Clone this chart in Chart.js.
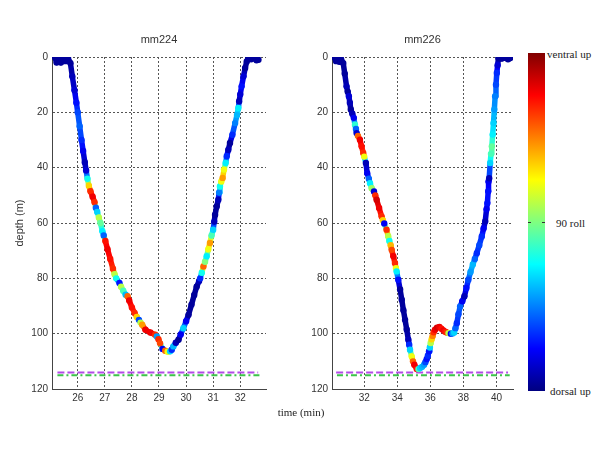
<!DOCTYPE html>
<html>
<head>
<meta charset="utf-8">
<title>mm224 / mm226 - depth and roll</title>
<script src="https://cdn.jsdelivr.net/npm/chart.js@4.4.1/dist/chart.umd.min.js"></script>
<style>
  html, body { margin: 0; padding: 0; background: #fff; }
  #wrap { position: relative; width: 600px; height: 450px; overflow: hidden; background: #fff; }
  canvas { position: absolute; top: 0; }
  #c224 { left: 0; }
  #c226 { left: 280px; }
  .lbl { position: absolute; font-family: "Liberation Serif", serif; font-size: 11px; color: #222; white-space: nowrap; line-height: 12px; }
  #colorbar { position: absolute; left: 528px; top: 53px; width: 17px; height: 338px; }
  .cbtick { position: absolute; top: 169px; width: 3px; height: 1px; background: #333; }
</style>
</head>
<body>
<div id="wrap">
  <canvas id="c224" width="280" height="450"></canvas>
  <canvas id="c226" width="240" height="450"></canvas>
  <div id="colorbar">
    <div class="cbtick" style="left:0"></div>
    <div class="cbtick" style="right:0"></div>
  </div>
  <div class="lbl" style="left:547px; top:48px;">ventral up</div>
  <div class="lbl" style="left:556px; top:217px;">90 roll</div>
  <div class="lbl" style="left:550px; top:385px;">dorsal up</div>
  <div class="lbl" style="left:301px; top:406px; transform:translateX(-50%);">time (min)</div>
</div>

<script>
// ---- datos ----
// mm224: tiempo (min), profundidad (m), roll (0 = dorsal up, 90, 180 = ventral up)
const time224 = [25.17, 25.22, 25.3, 25.38, 25.46, 25.55, 25.64, 25.73, 25.8, 25.88, 25.95, 26.0, 26.07, 26.14, 26.2, 26.26, 26.31, 26.36, 26.41, 26.47,
  26.55, 26.62, 26.67, 26.72, 26.78, 26.84, 26.91, 26.96, 27.02, 27.1, 27.2, 27.3, 27.36, 27.42, 27.54, 27.6, 27.68, 27.77, 27.84, 27.9,
  28.0, 28.1, 28.18, 28.26, 28.32, 28.38, 28.5, 28.68, 28.86, 28.92, 28.98, 29.04, 29.13, 29.23, 29.32, 29.41, 29.47, 29.53, 29.62, 29.72,
  29.8, 29.9, 30.0, 30.09, 30.2, 30.3, 30.39, 30.48, 30.52, 30.58, 30.64, 30.7, 30.76, 30.82, 30.88, 30.94, 31.0, 31.04, 31.07, 31.13,
  31.19, 31.22, 31.25, 31.3, 31.35, 31.4, 31.46, 31.5, 31.56, 31.62, 31.71, 31.81, 31.88, 31.93, 31.96, 32.0, 32.05, 32.12, 32.18, 32.24,
  32.3, 32.4, 32.5, 32.6, 32.67];
const depth224 = [0.3, 2.0, 1.0, 2.0, 0.5, 1.5, 0.3, 2.2, 7, 12, 16.5, 20, 25, 30, 34, 38, 41, 44, 46.5, 48.5,
  50.5, 52.5, 54.5, 56, 58, 60, 63, 64.5, 66.5, 69.5, 73, 76.5, 78.5, 80, 81.7, 83, 84.5, 85.9, 86.5, 88,
  90.5, 92.5, 94, 95, 96, 96.8, 98.6, 99.6, 100.4, 101, 102, 103.5, 105.5, 106.2, 106.5, 106.4, 105.8, 104.6, 103.3, 102.2,
  100.3, 98, 95.5, 93.2, 89.5, 86, 83, 81, 80, 78, 75.7, 74, 72, 69.5, 67.2, 64.5, 62.4, 59.5, 57, 54,
  51.6, 49, 46.8, 45, 43.7, 40.7, 38.3, 35.9, 33.5, 31.1, 28.1, 23.9, 21, 18.4, 16, 13.5, 10.6, 7, 4, 1.6,
  0.2, 0.8, 0.3, 1.2, 1.0];
const roll224 = [5, 5, 5, 5, 5, 5, 5, 5, 10, 15, 25, 35, 40, 30, 20, 10, 15, 70, 120, 150,
  160, 150, 40, 60, 100, 85, 65, 40, 155, 160, 155, 150, 100, 70, 25, 100, 80, 55, 140, 160,
  155, 150, 120, 35, 100, 130, 160, 160, 150, 50, 150, 145, 20, 140, 110, 60, 30, 55, 10, 5,
  20, 60, 20, 5, 5, 5, 5, 10, 30, 70, 140, 90, 65, 110, 130, 80, 60, 10, 5, 5,
  10, 45, 70, 110, 130, 110, 65, 30, 10, 5, 30, 45, 55, 65, 10, 15, 25, 15, 5, 5,
  5, 5, 5, 5, 5];

// mm226
const time226 = [30.22, 30.3, 30.4, 30.5, 30.6, 30.73, 30.82, 30.93, 31.0, 31.07, 31.13, 31.19, 31.28, 31.37, 31.44, 31.5, 31.54, 31.62, 31.74, 31.84,
  31.94, 32.0, 32.1, 32.18, 32.28, 32.35, 32.45, 32.59, 32.67, 32.75, 32.9, 33.05, 33.13, 33.21, 33.35, 33.45, 33.52, 33.6, 33.66, 33.76,
  33.86, 33.92, 33.96, 34.06, 34.17, 34.27, 34.37, 34.47, 34.57, 34.67, 34.72, 34.77, 34.87, 34.95, 35.03, 35.18, 35.28, 35.38, 35.5, 35.62,
  35.7, 35.78, 35.85, 35.92, 35.97, 36.02, 36.08, 36.14, 36.2, 36.28, 36.4, 36.55, 36.67, 36.79, 36.9, 36.99, 37.1, 37.24, 37.34, 37.44,
  37.52, 37.6, 37.7, 37.8, 37.93, 38.06, 38.18, 38.3, 38.43, 38.57, 38.69, 38.81, 38.96, 39.11, 39.22, 39.32, 39.4, 39.45, 39.5, 39.52,
  39.56, 39.62, 39.67, 39.72, 39.77, 39.82, 39.87, 39.92, 39.97, 40.02, 40.07, 40.12, 40.3, 40.5, 40.7, 40.83];
const depth226 = [0.3, 1.5, 0.5, 1.7, 0.8, 2.2, 6, 10.6, 12.5, 14.2, 16.5, 19, 20.5, 22, 24.5, 26, 27.5, 28.5, 29.9, 32.3,
  34.7, 36, 38.3, 42, 44, 45.6, 47.4, 48.6, 50, 51.6, 54.6, 57.6, 59, 60.2, 62.4, 64.8, 66.5, 68, 69.7, 72,
  74.5, 76.3, 77.5, 80.5, 84, 87.7, 91.5, 95, 98.5, 102.2, 104, 105.8, 108.2, 110, 111.2, 112.8, 112.8, 112.4, 112, 111.2,
  110.3, 109.2, 108, 106.4, 105, 103.4, 102, 100.8, 99.5, 98.6, 97.8, 97.6, 98.2, 98.8, 99.3, 99.6, 99.8, 100, 99.9, 99.6,
  98, 96.2, 93, 90.2, 88.3, 86.5, 83.5, 80.5, 77.7, 75, 73, 70.9, 68, 64.9, 62, 59.4, 55, 52.8, 48.5, 45,
  43.8, 38.3, 35, 32.3, 28, 23.9, 19, 14.2, 10, 5.8, 3, 0.4, 0.6, 0.3, 0.8, 0.4];
const roll226 = [5, 5, 5, 5, 5, 5, 5, 10, 5, 15, 10, 5, 10, 20, 75, 40, 15, 140, 160, 155,
  150, 110, 10, 20, 40, 65, 95, 15, 150, 165, 160, 150, 120, 20, 150, 100, 70, 125, 145, 160,
  150, 110, 65, 25, 5, 5, 5, 5, 5, 10, 30, 60, 110, 140, 160, 155, 80, 60, 55, 50,
  35, 25, 30, 25, 60, 100, 120, 135, 150, 160, 165, 160, 155, 160, 155, 150, 100, 20, 50, 60,
  40, 30, 35, 40, 20, 10, 25, 35, 50, 55, 40, 30, 35, 30, 20, 10, 20, 25, 25, 20,
  10, 60, 80, 85, 65, 60, 50, 45, 35, 30, 15, 5, 5, 5, 5, 5];

// lineas de referencia (morada y verde) al fondo
const refDepths = [114, 115];
const refColors = ['#b44ae8', '#3cc44a'];
const ref224Start = [25.25, 25.25];
const ref224End = [32.66, 32.73];
const ref226Start = [30.3, 30.35];
const ref226End = [40.7, 40.8];

// ejes
const ticks224 = [26, 27, 28, 29, 30, 31, 32];
const ticks226 = [32, 34, 36, 38, 40];
const depthTicks = [0, 20, 40, 60, 80, 100, 120];
const rollMax = 180;

// mapa de colores tipo "jet"
function jet(v) {
    v = Math.max(0, Math.min(1, v));
    const c = x => Math.round(255 * Math.max(0, Math.min(1, 1.5 - Math.abs(4 * v - x))));
    return `rgb(${c(3)}, ${c(2)}, ${c(1)})`;
}

// barra de colores
const cb = document.getElementById('colorbar');
const stops = [0, 0.125, 0.375, 0.625, 0.875, 1].map(s => `${jet(s)} ${s * 100}%`);
cb.style.background = `linear-gradient(to top, ${stops.join(', ')})`;

const tickFont = { family: 'Liberation Sans', size: 10 };

function makePanel(canvasId, title, times, depths, rolls, xMin, xMax, xTicks, refStart, refEnd, rightPad, yTitle) {
    const diveData = times.map((t, i) => ({ x: t, y: depths[i] }));
    const pointColors = rolls.map(r => jet(r / rollMax));

    const datasets = [{
        label: title,
        data: diveData,
        showLine: true,
        borderWidth: 5.5,
        borderCapStyle: 'round',
        borderJoinStyle: 'round',
        pointRadius: 3.2,
        pointBorderWidth: 0,
        pointBackgroundColor: pointColors,
        segment: {
            borderColor: ctx => jet((rolls[ctx.p0DataIndex] + rolls[ctx.p1DataIndex]) / 2 / rollMax)
        }
    }];

    refDepths.forEach((d, i) => {
        datasets.push({
            label: 'ref' + i,
            data: [{ x: refStart[i], y: d }, { x: refEnd[i], y: d }],
            showLine: true,
            borderColor: refColors[i],
            borderWidth: 2,
            borderDash: i === 0 ? [7, 3] : [6, 3, 2, 3],
            pointRadius: 0
        });
    });

    return new Chart(document.getElementById(canvasId), {
        type: 'scatter',
        data: { datasets: datasets },
        options: {
            responsive: false,
            animation: false,
            layout: { padding: { top: 20, right: rightPad, left: 0, bottom: 0 } },
            plugins: {
                legend: { display: false },
                tooltip: { enabled: false },
                title: {
                    display: true,
                    text: title,
                    fullSize: false,
                    color: '#333',
                    font: { family: 'Liberation Sans', size: 11, weight: 'normal' },
                    padding: { top: 13.4, bottom: 10.4 }
                }
            },
            scales: {
                x: {
                    type: 'linear',
                    min: xMin,
                    max: xMax,
                    afterBuildTicks: s => { s.ticks = xTicks.map(v => ({ value: v })); },
                    afterFit: s => { s.height = 61; },
                    grid: { color: '#555', lineWidth: 1, drawTicks: false, tickLength: 0 },
                    border: { display: true, color: '#444', width: 1, dash: [2, 2] },
                    ticks: { font: tickFont, color: '#333', padding: 3, maxRotation: 0 }
                },
                y: {
                    type: 'linear',
                    reverse: true,
                    min: 0,
                    max: 120,
                    afterBuildTicks: s => { s.ticks = depthTicks.map(v => ({ value: v })); },
                    afterFit: s => { s.width = 52; },
                    grid: { color: '#555', lineWidth: 1, drawTicks: false, tickLength: 0 },
                    border: { display: true, color: '#444', width: 1, dash: [2, 2] },
                    ticks: { font: tickFont, color: '#333', padding: 4 },
                    title: {
                        display: !!yTitle,
                        text: yTitle || '',
                        color: '#333',
                        font: { family: 'Liberation Sans', size: 11 },
                        padding: { top: 13, bottom: 0 }
                    }
                }
            }
        }
    });
}

makePanel('c224', 'mm224', time224, depth224, roll224, 25.05, 32.95, ticks224, ref224Start, ref224End, 14, 'depth (m)');
makePanel('c226', 'mm226', time226, depth226, roll226, 30.05, 41.0, ticks226, ref226Start, ref226End, 7, '');
</script>
</body>
</html>
